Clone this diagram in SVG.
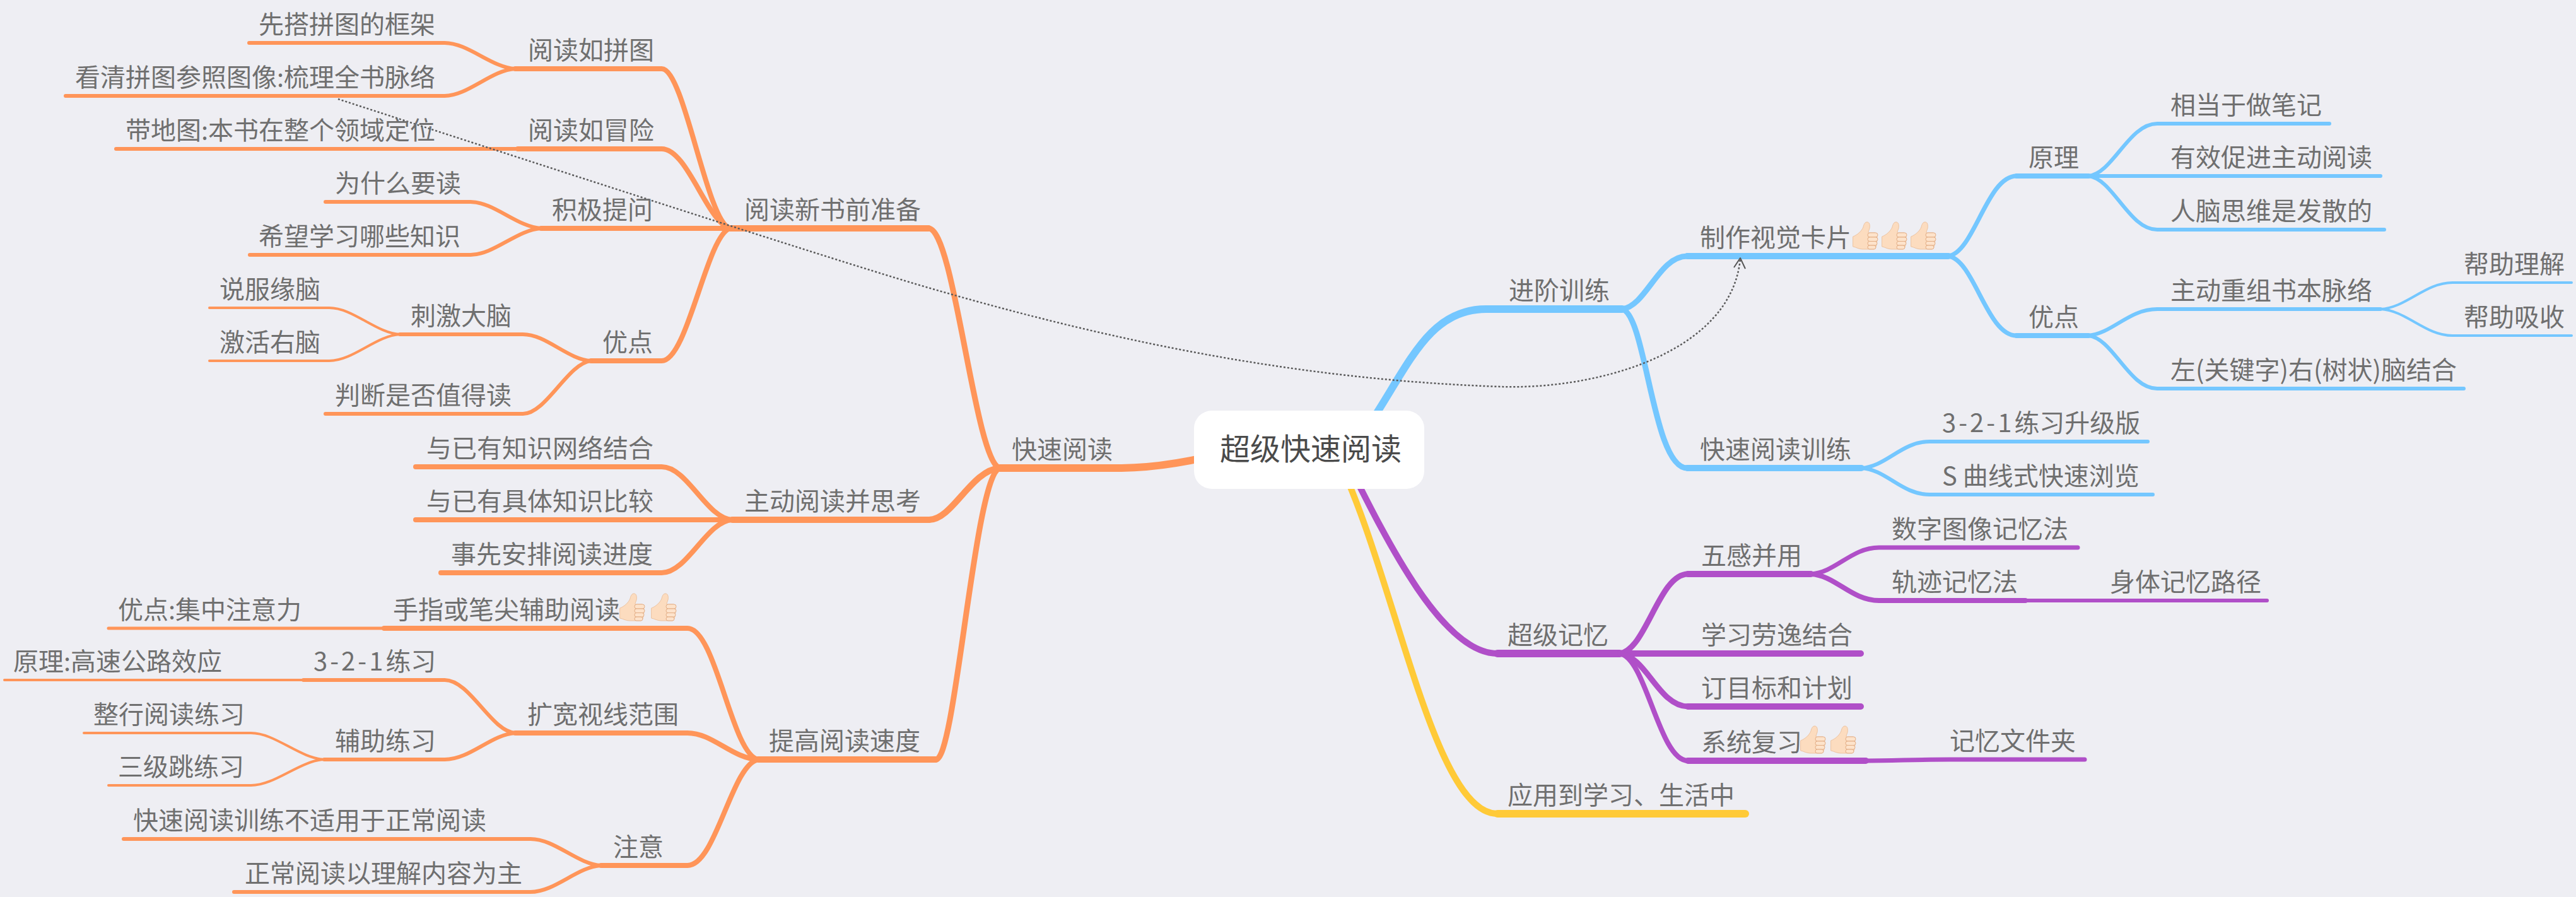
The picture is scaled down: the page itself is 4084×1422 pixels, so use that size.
<svg xmlns="http://www.w3.org/2000/svg" xmlns:xlink="http://www.w3.org/1999/xlink" width="4084" height="1422" viewBox="0 0 4084 1422">
<style>
text{font-family:"Noto Sans CJK SC","Noto Sans",sans-serif;font-size:40px;fill:#6f6f6f}
.root{font-size:48px;fill:#4a4a4a}
.ls{letter-spacing:4px}
path{fill:none;stroke-linecap:round;stroke-linejoin:round}
.o{stroke:#ff9559}.b{stroke:#74c7ff}.p{stroke:#b04fc8}.y{stroke:#ffca38}
.w12{stroke-width:12}.w10{stroke-width:10}.w9{stroke-width:9}.w8{stroke-width:8}.w7{stroke-width:7}.w6{stroke-width:6}.w5{stroke-width:5}.w4{stroke-width:4}
.rel{stroke:#5a5a5a;stroke-width:2.500;stroke-dasharray:3 3;stroke-linecap:butt}
.head{stroke:#555;stroke-width:2;stroke-linecap:butt}
.palm{fill:#fcdcbf;stroke:#edc3a0;stroke-width:1}
.fing{fill:#fde3cb;stroke:#e3ad84;stroke-width:1}
</style>
<defs>
<g id="thumb">
<path class="palm" d="M1 23C8 20 14 15 17 8C18 3 20 0 23 0C27 0 28 5 27 10C26 13 25 15 25 17L36 17C40 17 40 42 34 43L16 43C10 43 6 40 1 39Z"/>
<rect class="fing" x="24" y="17" width="16" height="7" rx="3.5"/>
<rect class="fing" x="24" y="24" width="16" height="6.500" rx="3.2"/>
<rect class="fing" x="24" y="30.500" width="15" height="6.500" rx="3.2"/>
<rect class="fing" x="24" y="37" width="13" height="6" rx="3"/>
</g>
</defs>
<rect width="4084" height="1422" fill="#eeeef3"/>
<g id="connectors">
<path class="o w12" d="M1960 713C1880 735 1820 742 1773 742H1585"/>
<path class="o w9" d="M1585 742C1545 730 1513 362 1472 362"/>
<path class="o w10" d="M1472 362H1157"/>
<path class="o w10" d="M1585 742C1540 745 1510 824 1473 824"/>
<path class="o w10" d="M1473 824H1161"/>
<path class="o w9" d="M1585 742C1545 755 1515 1204 1484 1204"/>
<path class="o w10" d="M1484 1204H1202"/>
<path class="o w8" d="M1157 362C1120 350 1085 109 1049 109H817"/>
<path class="o w8" d="M1157 362C1120 350 1090 236 1049 236H821"/>
<path class="o w8" d="M1157 362H858"/>
<path class="o w8" d="M1157 362C1120 375 1090 572 1049 572H937"/>
<path class="o w6" d="M817 109C779 107 742 68 705 68H395"/>
<path class="o w6" d="M817 109C779 111 742 152 705 152H104"/>
<path class="o w6" d="M821 236H184"/>
<path class="o w6" d="M858 362C820 360 783 320 746 320H516"/>
<path class="o w6" d="M858 362C820 364 783 404 746 404H396"/>
<path class="o w6" d="M937 572C900 570 866 530 829 530H634"/>
<path class="o w6" d="M937 572C900 576 866 656 829 656H516"/>
<path class="o w4" d="M634 530C596 528 560 488 522 488H332"/>
<path class="o w4" d="M634 530C596 532 560 572 522 572H332"/>
<path class="o w8" d="M1161 824C1120 822 1090 740 1049 740H659"/>
<path class="o w8" d="M1161 824H659"/>
<path class="o w8" d="M1161 824C1120 826 1090 908 1049 908H699"/>
<path class="o w8" d="M1202 1204C1160 1196 1135 996 1090 996H609"/>
<path class="o w5" d="M609 996H172"/>
<path class="o w8" d="M1202 1204C1160 1202 1130 1162 1090 1162H817"/>
<path class="o w8" d="M1202 1204C1160 1212 1135 1372 1090 1372H953"/>
<path class="o w6" d="M817 1162C779 1160 745 1078 705 1078H481"/>
<path class="o w4" d="M481 1078H7"/>
<path class="o w6" d="M817 1162C779 1164 745 1204 705 1204H514"/>
<path class="o w4" d="M514 1204C475 1202 436 1162 398 1162H133"/>
<path class="o w4" d="M514 1204C475 1206 436 1245 398 1245H172"/>
<path class="o w6" d="M953 1372C915 1370 880 1330 841 1330H196"/>
<path class="o w6" d="M953 1372C915 1374 880 1414 841 1414H371"/>

<path class="b w12" d="M2140 715C2225 610 2250 490 2356 490H2572"/>
<path class="b w9" d="M2572 490C2610 485 2630 406 2675 406"/>
<path class="b w10" d="M2675 406H3089"/>
<path class="b w9" d="M2572 490C2610 500 2620 742 2675 742"/>
<path class="b w10" d="M2675 742H2951"/>
<path class="b w7" d="M3089 406C3130 400 3150 279 3197 279"/>
<path class="b w8" d="M3197 279H3311"/>
<path class="b w7" d="M3089 406C3130 412 3150 532 3197 532"/>
<path class="b w8" d="M3197 532H3311"/>
<path class="b w6" d="M3311 279C3350 275 3375 196 3420 196H3693"/>
<path class="b w6" d="M3311 279H3774"/>
<path class="b w6" d="M3311 279C3350 283 3375 364 3420 364H3780"/>
<path class="b w6" d="M3311 532C3350 528 3375 490 3420 490H3774"/>
<path class="b w6" d="M3311 532C3350 536 3375 616 3420 616H3906"/>
<path class="b w4" d="M3774 490C3815 488 3845 448 3888 448H4077"/>
<path class="b w4" d="M3774 490C3815 492 3845 532 3888 532H4077"/>
<path class="b w6" d="M2951 742C2990 740 3015 700 3059 700H3405"/>
<path class="b w6" d="M2951 742C2990 744 3015 784 3059 784H3413"/>

<path class="p w10" d="M2130 720C2195 850 2285 1036 2374 1036"/>
<path class="p w12" d="M2374 1036H2568"/>
<path class="p w9" d="M2568 1036C2610 1030 2630 910 2676 910"/>
<path class="p w10" d="M2676 910H2871"/>
<path class="p w10" d="M2568 1036H2950"/>
<path class="p w9" d="M2568 1036C2610 1040 2630 1120 2676 1120"/>
<path class="p w10" d="M2676 1120H2950"/>
<path class="p w8" d="M2568 1036C2610 1042 2630 1206 2676 1206"/>
<path class="p w10" d="M2676 1206H2958"/>
<path class="p w7" d="M2958 1206C3000 1206 3040 1204 3091 1204H3305"/>
<path class="p w7" d="M2871 910C2910 908 2935 868 2979 868H3294"/>
<path class="p w8" d="M2871 910C2910 912 2935 952 2979 952H3211"/>
<path class="p w6" d="M3211 952H3594"/>

<path class="y w10" d="M2115 715C2210 900 2270 1290 2374 1290"/>
<path class="y w12" d="M2374 1290H2767"/>

<path class="rel" d="M536 157C900 275 1300 405 1451 450C1750 538 2050 602 2380 613C2530 618 2745 560 2759 410"/>
<path class="head" d="M2749 424L2759 409L2767 426"/>
</g>
<g id="root"><rect x="1893" y="651" width="365" height="124" rx="28" fill="#fff"/><text class="root" x="1934" y="729">超级快速阅读</text></g>
<g id="n1"><text x="1604" y="727">快速阅读</text></g>
<g id="n2"><text x="1180" y="347">阅读新书前准备</text></g>
<g id="n3"><text x="837" y="94">阅读如拼图</text></g>
<g id="n4"><text x="410" y="53">先搭拼图的框架</text></g>
<g id="n5"><text x="119" y="137">看清拼图参照图像:梳理全书脉络</text></g>
<g id="n6"><text x="837" y="221">阅读如冒险</text></g>
<g id="n7"><text x="199" y="221">带地图:本书在整个领域定位</text></g>
<g id="n8"><text x="875" y="347">积极提问</text></g>
<g id="n9"><text x="531" y="305">为什么要读</text></g>
<g id="n10"><text x="410" y="389">希望学习哪些知识</text></g>
<g id="n11"><text x="955" y="557">优点</text></g>
<g id="n12"><text x="651" y="515">刺激大脑</text></g>
<g id="n13"><text x="348" y="473">说服缘脑</text></g>
<g id="n14"><text x="348" y="557">激活右脑</text></g>
<g id="n15"><text x="531" y="641">判断是否值得读</text></g>
<g id="n16"><text x="1180" y="809">主动阅读并思考</text></g>
<g id="n17"><text x="676" y="725">与已有知识网络结合</text></g>
<g id="n18"><text x="676" y="809">与已有具体知识比较</text></g>
<g id="n19"><text x="715" y="893">事先安排阅读进度</text></g>
<g id="n20"><text x="1219" y="1189">提高阅读速度</text></g>
<g id="n21"><text x="623" y="981">手指或笔尖辅助阅读</text><use xlink:href="#thumb" x="982" y="941"/><use xlink:href="#thumb" x="1032" y="941"/></g>
<g id="n22"><text x="187" y="981">优点:集中注意力</text></g>
<g id="n23"><text x="836" y="1147">扩宽视线范围</text></g>
<g id="n24"><text x="497" y="1063"><tspan class="ls">3-2-1</tspan>练习</text></g>
<g id="n25"><text x="21" y="1063">原理:高速公路效应</text></g>
<g id="n26"><text x="531" y="1189">辅助练习</text></g>
<g id="n27"><text x="148" y="1147">整行阅读练习</text></g>
<g id="n28"><text x="187" y="1230">三级跳练习</text></g>
<g id="n29"><text x="972" y="1357">注意</text></g>
<g id="n30"><text x="211" y="1315">快速阅读训练不适用于正常阅读</text></g>
<g id="n31"><text x="388" y="1399">正常阅读以理解内容为主</text></g>
<g id="n32"><text x="2392" y="475">进阶训练</text></g>
<g id="n33"><text x="2695" y="391">制作视觉卡片</text><use xlink:href="#thumb" x="2937" y="352"/><use xlink:href="#thumb" x="2983" y="352"/><use xlink:href="#thumb" x="3029" y="352"/></g>
<g id="n34"><text x="3216" y="264">原理</text></g>
<g id="n35"><text x="3441" y="181">相当于做笔记</text></g>
<g id="n36"><text x="3441" y="264">有效促进主动阅读</text></g>
<g id="n37"><text x="3441" y="349">人脑思维是发散的</text></g>
<g id="n38"><text x="3216" y="517">优点</text></g>
<g id="n39"><text x="3441" y="475">主动重组书本脉络</text></g>
<g id="n40"><text x="3906" y="433">帮助理解</text></g>
<g id="n41"><text x="3906" y="517">帮助吸收</text></g>
<g id="n42"><text x="3441" y="601">左(关键字)右(树状)脑结合</text></g>
<g id="n43"><text x="2695" y="727">快速阅读训练</text></g>
<g id="n44"><text x="3079" y="685"><tspan class="ls">3-2-1</tspan>练习升级版</text></g>
<g id="n45"><text x="3079" y="769">S 曲线式快速浏览</text></g>
<g id="n46"><text x="2390" y="1021">超级记忆</text></g>
<g id="n47"><text x="2697" y="895">五感并用</text></g>
<g id="n48"><text x="2999" y="853">数字图像记忆法</text></g>
<g id="n49"><text x="2999" y="937">轨迹记忆法</text></g>
<g id="n50"><text x="3345" y="937">身体记忆路径</text></g>
<g id="n51"><text x="2697" y="1021">学习劳逸结合</text></g>
<g id="n52"><text x="2697" y="1105">订目标和计划</text></g>
<g id="n53"><text x="2697" y="1191">系统复习</text><use xlink:href="#thumb" x="2854" y="1151"/><use xlink:href="#thumb" x="2902" y="1151"/></g>
<g id="n54"><text x="3091" y="1189">记忆文件夹</text></g>
<g id="n55"><text x="2390" y="1275">应用到学习、生活中</text></g>
</svg>
